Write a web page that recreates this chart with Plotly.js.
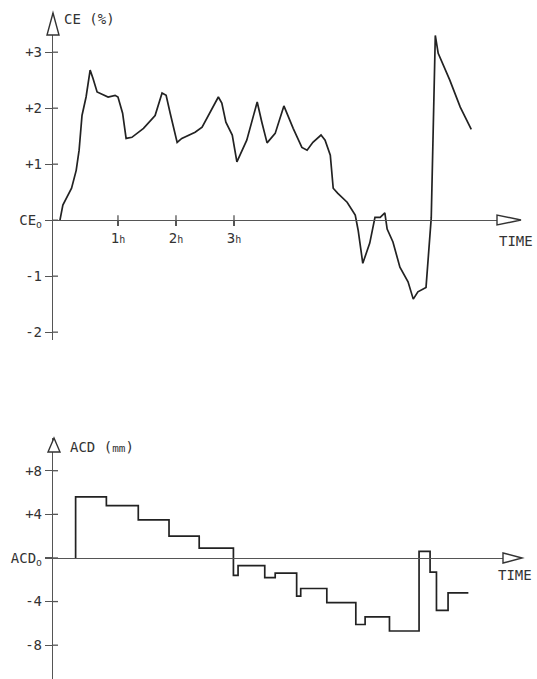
<!DOCTYPE html>
<html><head><meta charset="utf-8">
<script src="https://cdn.plot.ly/plotly-3.0.1.min.js"></script>
<style>html,body{margin:0;padding:0;background:#fff}</style>
</head><body><div id="chart" style="width:537px;height:679px"></div>
<script>
// ---- data ----
const ceTime  = [0, 0.05, 0.2, 0.28, 0.33, 0.38, 0.45, 0.52, 0.57, 0.64, 0.83, 0.95, 1.0, 1.08, 1.14, 1.24, 1.44, 1.64, 1.76, 1.83, 1.9, 2.02, 2.1, 2.33, 2.45, 2.73, 2.79, 2.86, 2.97, 3.05, 3.22, 3.4, 3.48, 3.57, 3.71, 3.86, 4.02, 4.17, 4.26, 4.36, 4.5, 4.57, 4.66, 4.71, 4.79, 4.95, 5.09, 5.14, 5.22, 5.34, 5.43, 5.52, 5.6, 5.64, 5.74, 5.86, 6.0, 6.09, 6.17, 6.31, 6.4, 6.47, 6.52, 6.72, 6.9, 7.09];
const ceValue = [0, 0.27, 0.57, 0.89, 1.25, 1.87, 2.2, 2.68, 2.53, 2.29, 2.2, 2.23, 2.2, 1.91, 1.46, 1.48, 1.64, 1.87, 2.27, 2.23, 1.91, 1.39, 1.46, 1.57, 1.66, 2.2, 2.09, 1.75, 1.52, 1.04, 1.43, 2.11, 1.75, 1.38, 1.55, 2.04, 1.64, 1.3, 1.25, 1.39, 1.52, 1.43, 1.16, 0.57, 0.48, 0.32, 0.09, -0.18, -0.77, -0.41, 0.05, 0.05, 0.13, -0.16, -0.39, -0.84, -1.1, -1.41, -1.28, -1.2, 0.04, 3.3, 2.98, 2.5, 2.02, 1.62];
const ceTickVals = [3, 2, 1, 0, -1, -2];
const ceTickText = ['+3', '+2', '+1', 'CE<sub>o</sub>', '-1', '-2'];
const hourTickVals = [1, 2, 3];
const hourTickText = ['1<span style="font-size:10px">h</span>', '2<span style="font-size:10px">h</span>', '3<span style="font-size:10px">h</span>'];

const acdTime  = [0.27, 0.27, 0.8, 1.35, 1.88, 2.4, 2.99, 3.07, 3.53, 3.71, 4.08, 4.15, 4.6, 5.1, 5.26, 5.68, 6.19, 6.38, 6.49, 6.69, 7.04];
const acdValue = [0, 5.6, 4.8, 3.5, 2.0, 0.9, -1.6, -0.7, -1.8, -1.4, -3.5, -2.8, -4.1, -6.1, -5.4, -6.7, 0.6, -1.3, -4.8, -3.2, -3.2];
const acdTickVals = [8, 4, 0, -4, -8];
const acdTickText = ['+8', '+4', 'ACD<sub>o</sub>', '-4', '-8'];

// ---- layout geometry ----
const W = 537, H = 679, mL = 53, mR = 17, mT = 13, mB = 0;
const plotW = W - mL - mR, plotH = H - mT - mB;
const pxX = p => (p - mL) / plotW;
const pxY = p => (H - mB - p) / plotH;

const xRange = [-0.12, 7.93];
const ceRange = [-2.14, 3.7];
const acdRange = [-11.1, 11.0];
const topDom = [pxY(340), 1];
const botDom = [0, pxY(438)];
const zeroPos = (rng, dom) => dom[0] + (0 - rng[0]) / (rng[1] - rng[0]) * (dom[1] - dom[0]);

const ink = '#222';
const axisCol = '#555';
const font = {family: 'DejaVu Sans Mono, monospace', size: 14, color: '#333'};

const traces = [
  {x: ceTime, y: ceValue, xaxis: 'x', yaxis: 'y', mode: 'lines', line: {color: ink, width: 1.7}, hoverinfo: 'skip'},
  {x: acdTime, y: acdValue, xaxis: 'x2', yaxis: 'y2', mode: 'lines', line: {color: ink, width: 1.7, shape: 'hv'}, hoverinfo: 'skip'}
];

const xCommon = {range: xRange, domain: [0, 1], showgrid: false, zeroline: false, showline: true, linecolor: axisCol, linewidth: 1.2, anchor: 'free', fixedrange: true};
const yCommon = {showgrid: false, zeroline: false, showline: true, linecolor: axisCol, linewidth: 1.2, ticks: 'outside', ticklen: 7, tickwidth: 1.3, tickcolor: axisCol, tickfont: font, tickmode: 'array', fixedrange: true};

function tri(points) {
  return 'M' + points.map(p => pxX(p[0]) + ',' + pxY(p[1])).join(' L') + ' Z';
}
const arrowStyle = {type: 'path', xref: 'paper', yref: 'paper', fillcolor: '#fff', line: {color: '#333', width: 1.4}, layer: 'above'};
const tickLine = {type: 'line', line: {color: axisCol, width: 1.3}, layer: 'above'};

// inner halves of the crossing tick marks (ticks cross the axis lines)
const innerTicks = [].concat(
  ceTickVals.map(v => Object.assign({}, tickLine, {xref: 'paper', yref: 'y', x0: 0, x1: pxX(58), y0: v, y1: v})),
  acdTickVals.map(v => Object.assign({}, tickLine, {xref: 'paper', yref: 'y2', x0: 0, x1: pxX(58), y0: v, y1: v})),
  hourTickVals.map(v => Object.assign({}, tickLine, {xref: 'x', yref: 'paper', x0: v, x1: v, y0: zeroPos(ceRange, topDom), y1: zeroPos(ceRange, topDom) + 5 / plotH}))
);

const layout = {
  width: W, height: H, margin: {l: mL, r: mR, t: mT, b: mB},
  paper_bgcolor: '#fff', plot_bgcolor: 'rgba(0,0,0,0)', showlegend: false,
  xaxis: Object.assign({}, xCommon, {position: zeroPos(ceRange, topDom), tickmode: 'array', tickvals: hourTickVals, ticktext: hourTickText, ticks: 'outside', ticklen: 5, tickwidth: 1.3, tickcolor: axisCol, tickfont: font}),
  yaxis: Object.assign({}, yCommon, {domain: topDom, range: ceRange, anchor: 'x', tickvals: ceTickVals, ticktext: ceTickText}),
  xaxis2: Object.assign({}, xCommon, {position: zeroPos(acdRange, botDom), showticklabels: false, ticks: ''}),
  yaxis2: Object.assign({}, yCommon, {domain: botDom, range: acdRange, anchor: 'x2', tickvals: acdTickVals, ticktext: acdTickText}),
  shapes: innerTicks.concat([
    Object.assign({}, arrowStyle, {path: tri([[53, 13], [47, 35], [59, 35]])}),
    Object.assign({}, arrowStyle, {path: tri([[521, 220], [497, 215], [497, 225]])}),
    Object.assign({}, arrowStyle, {path: tri([[54, 438], [48, 452], [60, 452]])}),
    Object.assign({}, arrowStyle, {path: tri([[522, 558], [503, 553], [503, 563]])})
  ]),
  annotations: [
    {text: 'CE (%)', xref: 'paper', yref: 'paper', x: pxX(62), y: pxY(19), xanchor: 'left', yanchor: 'middle', showarrow: false, font: font},
    {text: 'TIME', xref: 'paper', yref: 'paper', x: pxX(497), y: pxY(241), xanchor: 'left', yanchor: 'middle', showarrow: false, font: font},
    {text: 'ACD (<span style="font-size:11px;color:#333">mm</span>)', xref: 'paper', yref: 'paper', x: pxX(68), y: pxY(447), xanchor: 'left', yanchor: 'middle', showarrow: false, font: font},
    {text: 'TIME', xref: 'paper', yref: 'paper', x: pxX(496), y: pxY(575), xanchor: 'left', yanchor: 'middle', showarrow: false, font: font}
  ]
};

Plotly.newPlot('chart', traces, layout, {displayModeBar: false, staticPlot: true});
</script>
</body></html>
